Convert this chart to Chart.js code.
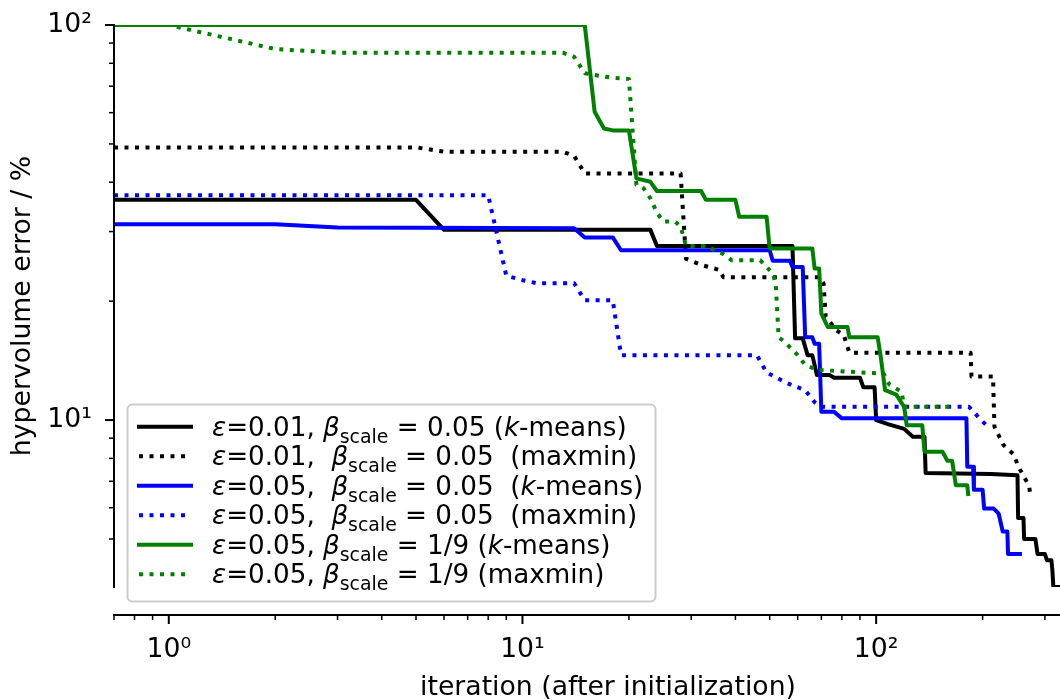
<!DOCTYPE html>
<html>
<head>
<meta charset="utf-8">
<script src="https://cdn.jsdelivr.net/npm/chart.js@4.4.0/dist/chart.umd.min.js"></script>
<style>
html, body { margin: 0; padding: 0; background: #fff; }
#wrap { width: 1060px; height: 700px; }
</style>
</head>
<body>
<div id="wrap"><canvas id="chart1" width="1060" height="700"></canvas></div>
<script>
// iteration 0 is drawn at the left edge of the log axis
var bkIter = [0,1,5,6,23,24,58,59,62,64,66,68,74,76,90,92,99,100,108,120,127,137,138,211,251,252,261,262,282,286,300,304,313,315,316,317,331];
var bkVal  = [36.1,36.1,36.1,30.3,30.3,27.6,27.6,16.1,16.1,14.6,14.6,13.0,13.0,12.8,12.8,12.1,12.1,10.0,9.77,9.5,9.07,9.07,7.35,7.3,7.25,5.65,5.65,5.0,5.0,4.58,4.58,4.42,4.42,4.17,4.17,3.78,3.78];

var bkdIter = [0,1,5,6,13,14,15,28,29,32,36,37,69,71,72,77,81,84,185,186,214,216,229,246,251,265,271,273];
var bkdVal  = [49.0,49.0,49.0,47.8,47.8,46.6,42.1,42.1,25.6,24.7,24.0,23.0,23.0,22.2,18.3,16.9,16.4,14.8,14.8,12.9,12.9,9.62,8.65,8.15,7.69,7.05,6.78,6.40];

var blIter = [0,1,2,3,14,15,18,19,50,51,57,58,62,63,66,67,69,70,76,80,180,181,188,189,200,202,215,222,228,235,236,255];
var blVal  = [31.3,31.3,31.3,30.7,30.6,29.0,29.0,26.9,26.9,25.3,25.3,24.4,24.4,16.2,16.2,15.6,15.6,10.5,10.5,10.1,10.1,7.62,7.62,6.66,6.66,5.97,5.97,5.80,5.22,5.22,4.58,4.58];

var bldIter = [0,1,8,9,10,11,14,15,18,19,46,49,56,63,67,70,183,198,207];
var bldVal  = [37.1,37.1,37.1,23.2,22.6,22.2,22.2,20.1,20.1,14.6,14.6,13.2,12.4,11.9,11.1,10.8,10.8,10.0,9.63];

var grIter = [0,1,15,16,17,18,20,21,23,24,32,33,40,41,49,50,66,67,69,70,73,83,84,101,103,106,114,120,122,135,137,154,159,164,168,181,182];
var grVal  = [100,100,100,60.3,54.7,54.1,54.1,40.9,40.1,38.0,38.0,36.1,36.1,32.7,32.7,27.2,27.2,24.2,24.2,18.6,17.2,17.2,16.2,16.2,14.5,11.9,11.6,10.8,9.71,9.71,8.32,8.32,7.89,7.89,6.84,6.84,6.50];

var grdIter = [0,1,2,3,13,14,15,16,18,20,21,22,23,24,25,27,28,29,33,35,37,39,47,51,52,53,55,60,63,68,105,109,118,120,163];
var grdVal  = [100,100,86.9,85.1,85.1,83.1,75.5,74.7,73.5,73.0,39.4,38.6,36.4,33.5,31.8,31.8,30.9,27.6,27.6,26.9,26.3,25.4,25.4,23.5,22.2,16.2,15.8,14.6,13.8,13.4,13.1,12.3,11.8,10.8,10.8];

var seriesLabels = [
  "{ε}=0.01, {β}_scale_ = 0.05 ({k}-means)",
  "{ε}=0.01,  {β}_scale_ = 0.05  (maxmin)",
  "{ε}=0.05,  {β}_scale_ = 0.05  ({k}-means)",
  "{ε}=0.05,  {β}_scale_ = 0.05  (maxmin)",
  "{ε}=0.05, {β}_scale_ = 1/9 ({k}-means)",
  "{ε}=0.05, {β}_scale_ = 1/9 (maxmin)"
];

var xTickValues = [1, 10, 100];
var xTickLabels = ['10⁰', '10¹', '10²'];
var yTickValues = [10, 100];
var yTickLabels = ['10¹', '10²'];
var xTitle = 'iteration (after initialization)';
var yTitle = 'hypervolume error / %';

var xMin = 0.748, xMax = 331;
var yMin = 3.78, yMax = 100;

var fontFam = '"DejaVu Sans", sans-serif';
var fs = 26.7;
var legFs = 26.2;

function pts(iters, vals) {
  return iters.map(function(it, i) { return {x: it, y: vals[i]}; });
}

function ds(label, iters, vals, color, dotted, order) {
  return {
    label: label,
    data: pts(iters, vals),
    borderColor: color,
    backgroundColor: color,
    borderWidth: 4,
    borderDash: dotted ? [4, 6.5] : [],
    borderCapStyle: dotted ? 'butt' : 'square',
    borderJoinStyle: 'round',
    pointRadius: 0,
    pointHitRadius: 0,
    tension: 0,
    fill: false,
    order: order
  };
}

function tickLabel(vals, labels) {
  return function(v) {
    for (var i = 0; i < vals.length; i++) {
      if (Math.abs(v - vals[i]) < 1e-6 * vals[i]) return labels[i];
    }
    return '';
  };
}

// 'major' for powers of ten, 'minor' for 2..9 x 10^n, null otherwise
function tickKind(v) {
  var e = Math.floor(Math.log10(v) + 1e-9);
  var s = v / Math.pow(10, e);
  if (Math.abs(s - Math.round(s)) > 1e-6) return null;
  return Math.round(s) === 1 ? 'major' : 'minor';
}

var axesPlugin = {
  id: 'mplAxes',
  afterDatasetsDraw: function(chart) {
    var ctx = chart.ctx, a = chart.chartArea;
    var xs = chart.scales.x, ys = chart.scales.y;
    var xAxisY = a.bottom + 28;
    ctx.save();
    ctx.strokeStyle = '#000';
    ctx.lineWidth = 2;
    ctx.beginPath();
    ctx.moveTo(a.left, a.top - 1);
    ctx.lineTo(a.left, a.bottom + 1);
    ctx.moveTo(a.left - 1, xAxisY);
    ctx.lineTo(chart.width, xAxisY);
    ctx.stroke();
    xs.ticks.forEach(function(t) {
      var k = tickKind(t.value);
      if (!k) return;
      var px = xs.getPixelForValue(t.value);
      ctx.lineWidth = k === 'major' ? 2 : 1.5;
      ctx.beginPath();
      ctx.moveTo(px, xAxisY);
      ctx.lineTo(px, xAxisY + (k === 'major' ? 9 : 5));
      ctx.stroke();
    });
    ys.ticks.forEach(function(t) {
      var k = tickKind(t.value);
      if (!k) return;
      var py = ys.getPixelForValue(t.value);
      ctx.lineWidth = k === 'major' ? 2 : 1.5;
      ctx.beginPath();
      ctx.moveTo(a.left, py);
      ctx.lineTo(a.left - (k === 'major' ? 9 : 5), py);
      ctx.stroke();
    });
    // x axis label, centred a little right of the visible axis as in the original
    ctx.fillStyle = '#000';
    ctx.font = fs + 'px ' + fontFam;
    ctx.textAlign = 'center';
    ctx.textBaseline = 'alphabetic';
    ctx.fillText(xTitle, 608, 695);
    ctx.restore();
  }
};

function parseLabel(s) {
  var segs = [], re = /\{([^}]*)\}|_([^_]*)_|([^{_]+)/g, m;
  while ((m = re.exec(s)) !== null) {
    if (m[1] !== undefined) segs.push({t: m[1], style: 'it'});
    else if (m[2] !== undefined) segs.push({t: m[2], style: 'sub'});
    else segs.push({t: m[3], style: 'rm'});
  }
  return segs;
}

function drawRich(ctx, segs, x, y) {
  segs.forEach(function(sg) {
    if (sg.style === 'sub') {
      ctx.font = (legFs * 0.72).toFixed(1) + 'px ' + fontFam;
      ctx.fillText(sg.t, x, y + 7);
    } else if (sg.style === 'it') {
      ctx.font = 'italic ' + legFs + 'px ' + fontFam;
      ctx.fillText(sg.t, x, y);
    } else {
      ctx.font = legFs + 'px ' + fontFam;
      ctx.fillText(sg.t, x, y);
    }
    x += ctx.measureText(sg.t).width;
  });
}

var legendPlugin = {
  id: 'mplLegend',
  afterDraw: function(chart) {
    var ctx = chart.ctx;
    var bx = 127.5, by = 404.5, bw = 528, bh = 197, r = 5;
    ctx.save();
    ctx.beginPath();
    ctx.roundRect(bx, by, bw, bh, r);
    ctx.fillStyle = 'rgba(255,255,255,0.8)';
    ctx.fill();
    ctx.strokeStyle = '#cccccc';
    ctx.lineWidth = 2;
    ctx.stroke();
    chart.data.datasets.forEach(function(d, i) {
      var yc = 426.7 + 29.5 * i;
      ctx.strokeStyle = d.borderColor;
      ctx.lineWidth = d.borderWidth;
      ctx.setLineDash(d.borderDash);
      ctx.lineCap = d.borderCapStyle;
      ctx.beginPath();
      ctx.moveTo(139, yc);
      ctx.lineTo(191, yc);
      ctx.stroke();
      ctx.setLineDash([]);
      ctx.fillStyle = '#000';
      ctx.textAlign = 'left';
      ctx.textBaseline = 'alphabetic';
      drawRich(ctx, parseLabel(d.label), 212, yc + 9);
    });
    ctx.restore();
  }
};

new Chart(document.getElementById('chart1'), {
  type: 'line',
  data: {
    datasets: [
      ds(seriesLabels[0], bkIter, bkVal, '#000000', false, 6),
      ds(seriesLabels[1], bkdIter, bkdVal, '#000000', true, 5),
      ds(seriesLabels[2], blIter, blVal, '#0000ff', false, 4),
      ds(seriesLabels[3], bldIter, bldVal, '#0000ff', true, 3),
      ds(seriesLabels[4], grIter, grVal, '#008000', false, 2),
      ds(seriesLabels[5], grdIter, grdVal, '#008000', true, 1)
    ]
  },
  options: {
    responsive: false,
    animation: false,
    events: [],
    layout: { padding: { top: 25, right: 0, left: 0, bottom: 0 } },
    plugins: {
      legend: { display: false },
      tooltip: { enabled: false }
    },
    scales: {
      x: {
        type: 'logarithmic',
        min: xMin,
        max: xMax,
        grid: { display: false, drawTicks: false },
        border: { display: false },
        ticks: {
          autoSkip: false,
          maxRotation: 0,
          padding: 47,
          color: '#000',
          font: { family: fontFam, size: fs },
          callback: tickLabel(xTickValues, xTickLabels)
        },
        title: { display: false },
        afterFit: function(scale) {
          scale.height = 113;
          scale.paddingLeft = 0;
          scale.paddingRight = 0;
        }
      },
      y: {
        type: 'logarithmic',
        min: yMin,
        max: yMax,
        grid: { display: false, drawTicks: false },
        border: { display: false },
        ticks: {
          autoSkip: false,
          padding: 22,
          color: '#000',
          font: { family: fontFam, size: fs },
          callback: tickLabel(yTickValues, yTickLabels)
        },
        title: {
          display: true,
          text: yTitle,
          color: '#000',
          font: { family: fontFam, size: fs },
          padding: { top: 7, bottom: 0 }
        },
        afterFit: function(scale) {
          scale.width = 114;
          scale.paddingTop = 0;
          scale.paddingBottom = 0;
        }
      }
    }
  },
  plugins: [axesPlugin, legendPlugin]
});
</script>
</body>
</html>
